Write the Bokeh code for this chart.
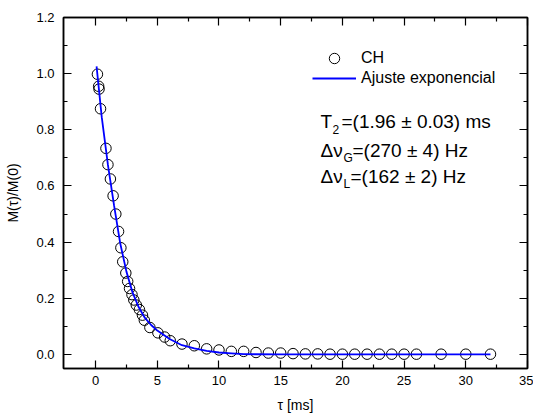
from bokeh.plotting import figure
from bokeh.models import (Range1d, FixedTicker, LinearAxis, Label, Legend, LegendItem)
from bokeh.embed import file_html
from bokeh.resources import INLINE

# ---- data ----
tau = [0.15, 0.25, 0.28, 0.4, 0.84, 1.0, 1.2, 1.42, 1.64, 1.86, 2.05, 2.2, 2.45, 2.6,
       2.75, 2.95, 3.1, 3.3, 3.55, 3.8, 3.95, 4.4, 5.05, 5.6, 6.05, 7, 8, 9, 10, 11,
       12, 13, 14, 15, 16, 17, 18, 19, 20, 21, 22, 23, 24, 25, 26, 28, 30, 32]
m_ch = [0.998, 0.955, 0.945, 0.875, 0.734, 0.676, 0.625, 0.565, 0.50, 0.438, 0.38, 0.33,
        0.29, 0.26, 0.235, 0.213, 0.194, 0.176, 0.16, 0.14, 0.122, 0.096, 0.077, 0.062,
        0.049, 0.037, 0.031, 0.02, 0.016, 0.011, 0.011, 0.007, 0.005, 0.005, 0.003, 0.002,
        0.002, 0.001, 0.001, 0.001, 0.001, 0.001, 0.001, 0.001, 0.001, 0.001, 0.001, 0.001]

tau_fit = [0.08, 0.5, 1.0, 1.5, 2.0, 2.5, 3.0, 3.5, 4.0, 4.5, 5.0, 6.0, 7.0, 8.0, 9.0,
           10.0, 11.0, 12.0, 15.0, 20.0, 32.0]
m_fit = [1.026, 0.845, 0.675, 0.53, 0.395, 0.295, 0.22, 0.168, 0.13, 0.105, 0.085, 0.055,
         0.033, 0.022, 0.013, 0.007, 0.004, 0.001, 0.0, 0.0, 0.0]

x_ticks = [0, 5, 10, 15, 20, 25, 30, 35]
x_minor = [2.5, 7.5, 12.5, 17.5, 22.5, 27.5, 32.5]
y_ticks = [0.0, 0.2, 0.4, 0.6, 0.8, 1.0, 1.2]
y_minor = [0.1, 0.3, 0.5, 0.7, 0.9, 1.1]
y_labels = {0.0: "0.0", 0.2: "0.2", 0.4: "0.4", 0.6: "0.6", 0.8: "0.8", 1.0: "1.0", 1.2: "1.2"}

FONT = "Liberation Sans"

p = figure(width=533, height=416, x_range=Range1d(-2.6, 35), y_range=Range1d(-0.05, 1.2),
           output_backend="svg", toolbar_location=None,
           min_border_left=63, min_border_right=6, min_border_top=17, min_border_bottom=48,
           x_axis_label="τ [ms]", y_axis_label="M(τ)/M(0)")
p.xgrid.visible = False
p.ygrid.visible = False
p.outline_line_color = "black"
p.outline_line_width = 1.5
p.background_fill_color = "white"
p.border_fill_color = "white"

def style_axis(ax, ticks, minor, show_labels=True, overrides=None):
    ax.ticker = FixedTicker(ticks=ticks, minor_ticks=minor)
    ax.axis_line_color = "black"
    ax.axis_line_width = 1.5
    ax.major_tick_in = 8
    ax.major_tick_out = 0
    ax.minor_tick_in = 4
    ax.minor_tick_out = 0
    ax.major_tick_line_width = 1.2
    ax.minor_tick_line_width = 1.2
    ax.major_label_text_font = FONT
    ax.major_label_text_font_size = "13px"
    ax.major_label_text_color = "black"
    ax.axis_label_text_font = FONT
    ax.axis_label_text_font_style = "normal"
    ax.axis_label_text_font_size = "14px"
    ax.axis_label_text_color = "black"
    if not show_labels:
        ax.major_label_overrides = {t: "" for t in ticks}
    elif overrides:
        ax.major_label_overrides = overrides

style_axis(p.xaxis[0], x_ticks, x_minor)
p.xaxis[0].major_label_standoff = 7
p.xaxis[0].axis_label_standoff = 9
style_axis(p.yaxis[0], y_ticks, y_minor, overrides=y_labels)
p.yaxis[0].major_label_standoff = 9
p.yaxis[0].axis_label_standoff = 12

top = LinearAxis()
style_axis(top, x_ticks, x_minor, show_labels=False)
top.major_label_standoff = 0
p.add_layout(top, "above")
right = LinearAxis()
style_axis(right, y_ticks, y_minor, show_labels=False)
right.major_label_standoff = 0
p.add_layout(right, "right")

sc = p.scatter(tau, m_ch, marker="circle", size=10.5, fill_color=None,
               line_color="black", line_width=1)
ln = p.line(tau_fit, m_fit, line_color="#0000ff", line_width=1.8)

def make_legend(item, gh, vy):
    lg = Legend(items=[item], location=(249, vy), orientation="vertical",
                glyph_width=44, glyph_height=gh, label_height=gh, label_standoff=5,
                padding=0, margin=0, spacing=0, border_line_color=None,
                background_fill_color=None, label_text_font=FONT,
                label_text_font_size="16px", label_text_color="black")
    p.add_layout(lg, "center")

make_legend(LegendItem(label="CH", renderers=[sc]), 26, 297)
make_legend(LegendItem(label="Ajuste exponencial", renderers=[ln]), 20, 280)

FL, FB = 63, 368
def lab(text, px, py, size):
    p.add_layout(Label(x=px - FL, y=FB - py, x_units="screen", y_units="screen",
                       text=text, text_font=FONT, text_font_size=f"{size}px",
                       text_color="black", text_align="left",
                       text_baseline="alphabetic"))

lab("T", 320, 121, 19)
lab("2", 332, 129, 12)
lab("=(1.96 ± 0.03) ms", 341, 121, 19)
lab("Δν", 320, 150, 19)
lab("G", 343, 157, 12)
lab("=(270 ± 4) Hz", 352, 150, 19)
lab("Δν", 320, 176, 19)
lab("L", 343, 183, 12)
lab("=(162 ± 2) Hz", 350, 176, 19)

open("out.html", "w").write(file_html(p, INLINE))
